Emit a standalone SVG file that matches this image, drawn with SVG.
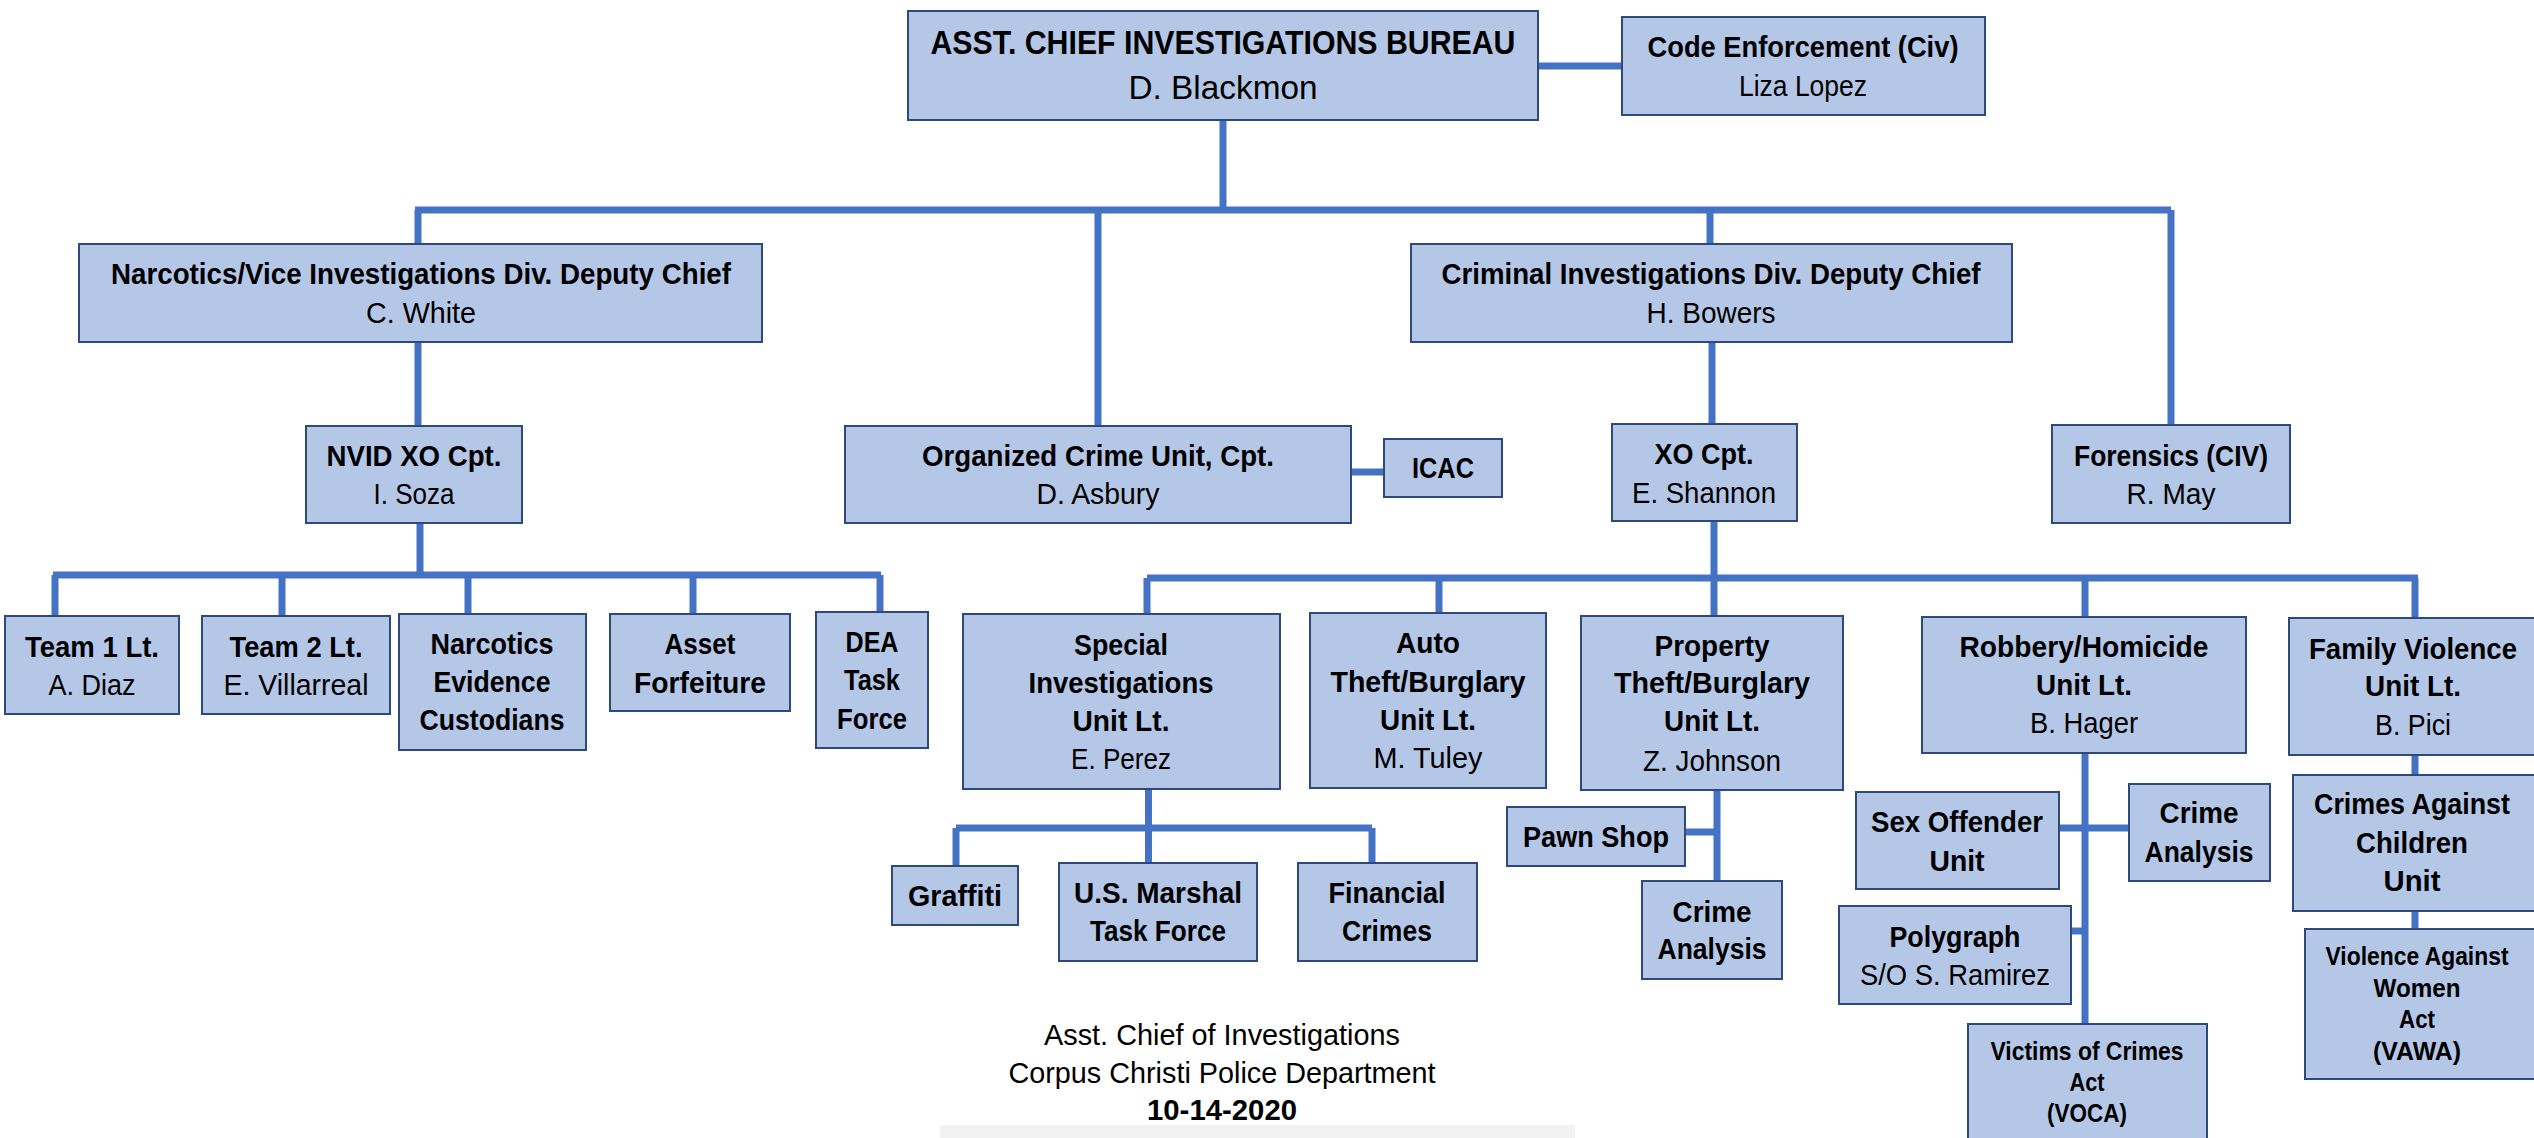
<svg xmlns="http://www.w3.org/2000/svg" width="2534" height="1138" viewBox="0 0 2534 1138">
<style>
.bx{fill:#B4C7E7;stroke:#2E4A7D;stroke-width:2}
.c{stroke:#4472C4;stroke-width:7;fill:none;stroke-linecap:butt}
text{font-family:"Liberation Sans",Arial,sans-serif;fill:#000;text-anchor:middle}
.b{font-size:29px;font-weight:bold}
.r{font-size:29px}
.bt{font-size:34px;font-weight:bold}
.rt{font-size:34px}
.bs{font-size:25px;font-weight:bold}
</style>
<rect width="2534" height="1138" fill="#fff"/>
<g id="connectors">
<path class="c" d="M1223 120V210M415 210H2171M418 210V244M1098 210V426M1710 210V244M2171 210V425"/>
<path class="c" d="M1538 66H1622M1351 472H1384"/>
<path class="c" d="M418 342V426M420 523V575M53 575H881M55 575V616M282 575V616M468 575V614M693 575V614M880 575V612"/>
<path class="c" d="M1712 342V424M1714 521V578M1147 578H2418M1147 578V614M1439 578V613M1714 578V616M2085 578V617M2415 578V618"/>
<path class="c" d="M1148.5 789V828M956 828H1372M956 828V866M1148.5 828V863M1372 828V863"/>
<path class="c" d="M1717 790V881M1685 832H1717"/>
<path class="c" d="M2085 753V1024M2059 828H2129M2071 931H2085"/>
<path class="c" d="M2415 755V775M2415 911V929"/>
</g>
<g id="n-chief"><rect class="bx" x="908" y="11" width="630" height="109"/><text class="bt" x="1223" y="54" textLength="585" lengthAdjust="spacingAndGlyphs">ASST. CHIEF INVESTIGATIONS BUREAU</text><text class="rt" x="1223" y="99" textLength="189" lengthAdjust="spacingAndGlyphs">D. Blackmon</text></g>
<g id="n-code"><rect class="bx" x="1622" y="17" width="363" height="98"/><text class="b" x="1803" y="57" textLength="311" lengthAdjust="spacingAndGlyphs">Code Enforcement (Civ)</text><text class="r" x="1803" y="96" textLength="128" lengthAdjust="spacingAndGlyphs">Liza Lopez</text></g>
<g id="n-nvid-dc"><rect class="bx" x="79" y="244" width="683" height="98"/><text class="b" x="421" y="284" textLength="620" lengthAdjust="spacingAndGlyphs">Narcotics/Vice Investigations Div. Deputy Chief</text><text class="r" x="421" y="323" textLength="110" lengthAdjust="spacingAndGlyphs">C. White</text></g>
<g id="n-cid-dc"><rect class="bx" x="1411" y="244" width="601" height="98"/><text class="b" x="1711" y="284" textLength="539" lengthAdjust="spacingAndGlyphs">Criminal Investigations Div. Deputy Chief</text><text class="r" x="1711" y="323" textLength="129" lengthAdjust="spacingAndGlyphs">H. Bowers</text></g>
<g id="n-nvid-xo"><rect class="bx" x="306" y="426" width="216" height="97"/><text class="b" x="414" y="466" textLength="175" lengthAdjust="spacingAndGlyphs">NVID XO Cpt.</text><text class="r" x="414" y="504" textLength="81" lengthAdjust="spacingAndGlyphs">I. Soza</text></g>
<g id="n-ocu"><rect class="bx" x="845" y="426" width="506" height="97"/><text class="b" x="1098" y="466" textLength="352" lengthAdjust="spacingAndGlyphs">Organized Crime Unit, Cpt.</text><text class="r" x="1098" y="504" textLength="123" lengthAdjust="spacingAndGlyphs">D. Asbury</text></g>
<g id="n-icac"><rect class="bx" x="1384" y="439" width="118" height="58"/><text class="b" x="1443" y="478" textLength="62" lengthAdjust="spacingAndGlyphs">ICAC</text></g>
<g id="n-xo"><rect class="bx" x="1612" y="424" width="185" height="97"/><text class="b" x="1704" y="464" textLength="99" lengthAdjust="spacingAndGlyphs">XO Cpt.</text><text class="r" x="1704" y="503" textLength="144" lengthAdjust="spacingAndGlyphs">E. Shannon</text></g>
<g id="n-forensics"><rect class="bx" x="2052" y="425" width="238" height="98"/><text class="b" x="2171" y="466" textLength="194" lengthAdjust="spacingAndGlyphs">Forensics (CIV)</text><text class="r" x="2171" y="504" textLength="89" lengthAdjust="spacingAndGlyphs">R. May</text></g>
<g id="n-team1"><rect class="bx" x="5" y="616" width="174" height="98"/><text class="b" x="92" y="657" textLength="134" lengthAdjust="spacingAndGlyphs">Team 1 Lt.</text><text class="r" x="92" y="695" textLength="87" lengthAdjust="spacingAndGlyphs">A. Diaz</text></g>
<g id="n-team2"><rect class="bx" x="202" y="616" width="188" height="98"/><text class="b" x="296" y="657" textLength="133" lengthAdjust="spacingAndGlyphs">Team 2 Lt.</text><text class="r" x="296" y="695" textLength="145" lengthAdjust="spacingAndGlyphs">E. Villarreal</text></g>
<g id="n-nec"><rect class="bx" x="399" y="614" width="187" height="136"/><text class="b" x="492" y="654" textLength="123" lengthAdjust="spacingAndGlyphs">Narcotics</text><text class="b" x="492" y="692" textLength="117" lengthAdjust="spacingAndGlyphs">Evidence</text><text class="b" x="492" y="730" textLength="145" lengthAdjust="spacingAndGlyphs">Custodians</text></g>
<g id="n-asset"><rect class="bx" x="610" y="614" width="180" height="97"/><text class="b" x="700" y="654" textLength="71" lengthAdjust="spacingAndGlyphs">Asset</text><text class="b" x="700" y="693" textLength="132" lengthAdjust="spacingAndGlyphs">Forfeiture</text></g>
<g id="n-dea"><rect class="bx" x="816" y="612" width="112" height="136"/><text class="b" x="872" y="652" textLength="53" lengthAdjust="spacingAndGlyphs">DEA</text><text class="b" x="872" y="690" textLength="56" lengthAdjust="spacingAndGlyphs">Task</text><text class="b" x="872" y="729" textLength="70" lengthAdjust="spacingAndGlyphs">Force</text></g>
<g id="n-siu"><rect class="bx" x="963" y="614" width="317" height="175"/><text class="b" x="1121" y="655" textLength="94" lengthAdjust="spacingAndGlyphs">Special</text><text class="b" x="1121" y="693" textLength="185" lengthAdjust="spacingAndGlyphs">Investigations</text><text class="b" x="1121" y="731" textLength="97" lengthAdjust="spacingAndGlyphs">Unit Lt.</text><text class="r" x="1121" y="769" textLength="100" lengthAdjust="spacingAndGlyphs">E. Perez</text></g>
<g id="n-auto"><rect class="bx" x="1310" y="613" width="236" height="175"/><text class="b" x="1428" y="653" textLength="64" lengthAdjust="spacingAndGlyphs">Auto</text><text class="b" x="1428" y="692" textLength="195" lengthAdjust="spacingAndGlyphs">Theft/Burglary</text><text class="b" x="1428" y="730" textLength="96" lengthAdjust="spacingAndGlyphs">Unit Lt.</text><text class="r" x="1428" y="768" textLength="109" lengthAdjust="spacingAndGlyphs">M. Tuley</text></g>
<g id="n-property"><rect class="bx" x="1581" y="616" width="262" height="174"/><text class="b" x="1712" y="656" textLength="115" lengthAdjust="spacingAndGlyphs">Property</text><text class="b" x="1712" y="693" textLength="196" lengthAdjust="spacingAndGlyphs">Theft/Burglary</text><text class="b" x="1712" y="731" textLength="96" lengthAdjust="spacingAndGlyphs">Unit Lt.</text><text class="r" x="1712" y="771" textLength="138" lengthAdjust="spacingAndGlyphs">Z. Johnson</text></g>
<g id="n-robbery"><rect class="bx" x="1922" y="617" width="324" height="136"/><text class="b" x="2084" y="657" textLength="249" lengthAdjust="spacingAndGlyphs">Robbery/Homicide</text><text class="b" x="2084" y="695" textLength="96" lengthAdjust="spacingAndGlyphs">Unit Lt.</text><text class="r" x="2084" y="733" textLength="108" lengthAdjust="spacingAndGlyphs">B. Hager</text></g>
<g id="n-family"><rect class="bx" x="2289" y="618" width="250" height="137"/><text class="b" x="2413" y="659" textLength="208" lengthAdjust="spacingAndGlyphs">Family Violence</text><text class="b" x="2413" y="696" textLength="96" lengthAdjust="spacingAndGlyphs">Unit Lt.</text><text class="r" x="2413" y="735" textLength="76" lengthAdjust="spacingAndGlyphs">B. Pici</text></g>
<g id="n-cac"><rect class="bx" x="2293" y="775" width="246" height="136"/><text class="b" x="2412" y="814" textLength="196" lengthAdjust="spacingAndGlyphs">Crimes Against</text><text class="b" x="2412" y="853" textLength="112" lengthAdjust="spacingAndGlyphs">Children</text><text class="b" x="2412" y="891" textLength="57" lengthAdjust="spacingAndGlyphs">Unit</text></g>
<g id="n-vawa"><rect class="bx" x="2305" y="929" width="236" height="150"/><text class="bs" x="2417" y="965" textLength="183" lengthAdjust="spacingAndGlyphs">Violence Against</text><text class="bs" x="2417" y="997" textLength="87" lengthAdjust="spacingAndGlyphs">Women</text><text class="bs" x="2417" y="1028" textLength="36" lengthAdjust="spacingAndGlyphs">Act</text><text class="bs" x="2417" y="1060" textLength="88" lengthAdjust="spacingAndGlyphs">(VAWA)</text></g>
<g id="n-graffiti"><rect class="bx" x="892" y="866" width="126" height="59"/><text class="b" x="955" y="906" textLength="94" lengthAdjust="spacingAndGlyphs">Graffiti</text></g>
<g id="n-marshal"><rect class="bx" x="1059" y="863" width="198" height="98"/><text class="b" x="1158" y="903" textLength="168" lengthAdjust="spacingAndGlyphs">U.S. Marshal</text><text class="b" x="1158" y="941" textLength="136" lengthAdjust="spacingAndGlyphs">Task Force</text></g>
<g id="n-financial"><rect class="bx" x="1298" y="863" width="179" height="98"/><text class="b" x="1387" y="903" textLength="117" lengthAdjust="spacingAndGlyphs">Financial</text><text class="b" x="1387" y="941" textLength="90" lengthAdjust="spacingAndGlyphs">Crimes</text></g>
<g id="n-pawn"><rect class="bx" x="1507" y="807" width="178" height="59"/><text class="b" x="1596" y="847" textLength="146" lengthAdjust="spacingAndGlyphs">Pawn Shop</text></g>
<g id="n-ca1"><rect class="bx" x="1642" y="881" width="140" height="98"/><text class="b" x="1712" y="922" textLength="79" lengthAdjust="spacingAndGlyphs">Crime</text><text class="b" x="1712" y="959" textLength="109" lengthAdjust="spacingAndGlyphs">Analysis</text></g>
<g id="n-sex"><rect class="bx" x="1856" y="792" width="203" height="97"/><text class="b" x="1957" y="832" textLength="172" lengthAdjust="spacingAndGlyphs">Sex Offender</text><text class="b" x="1957" y="871" textLength="55" lengthAdjust="spacingAndGlyphs">Unit</text></g>
<g id="n-ca2"><rect class="bx" x="2129" y="784" width="141" height="97"/><text class="b" x="2199" y="823" textLength="79" lengthAdjust="spacingAndGlyphs">Crime</text><text class="b" x="2199" y="862" textLength="109" lengthAdjust="spacingAndGlyphs">Analysis</text></g>
<g id="n-polygraph"><rect class="bx" x="1839" y="906" width="232" height="98"/><text class="b" x="1955" y="947" textLength="131" lengthAdjust="spacingAndGlyphs">Polygraph</text><text class="r" x="1955" y="985" textLength="190" lengthAdjust="spacingAndGlyphs">S/O S. Ramirez</text></g>
<g id="n-voca"><rect class="bx" x="1968" y="1024" width="239" height="125"/><text class="bs" x="2087" y="1060" textLength="193" lengthAdjust="spacingAndGlyphs">Victims of Crimes</text><text class="bs" x="2087" y="1091" textLength="35" lengthAdjust="spacingAndGlyphs">Act</text><text class="bs" x="2087" y="1122" textLength="80" lengthAdjust="spacingAndGlyphs">(VOCA)</text></g>
<g id="footer"><rect x="940" y="1125" width="635" height="13" fill="#F2F2F2"/><text class="r" x="1222" y="1045" textLength="356" lengthAdjust="spacingAndGlyphs">Asst. Chief of Investigations</text><text class="r" x="1222" y="1083" textLength="427" lengthAdjust="spacingAndGlyphs">Corpus Christi Police Department</text><text class="b" x="1222" y="1120" textLength="150" lengthAdjust="spacingAndGlyphs">10-14-2020</text></g>
</svg>
